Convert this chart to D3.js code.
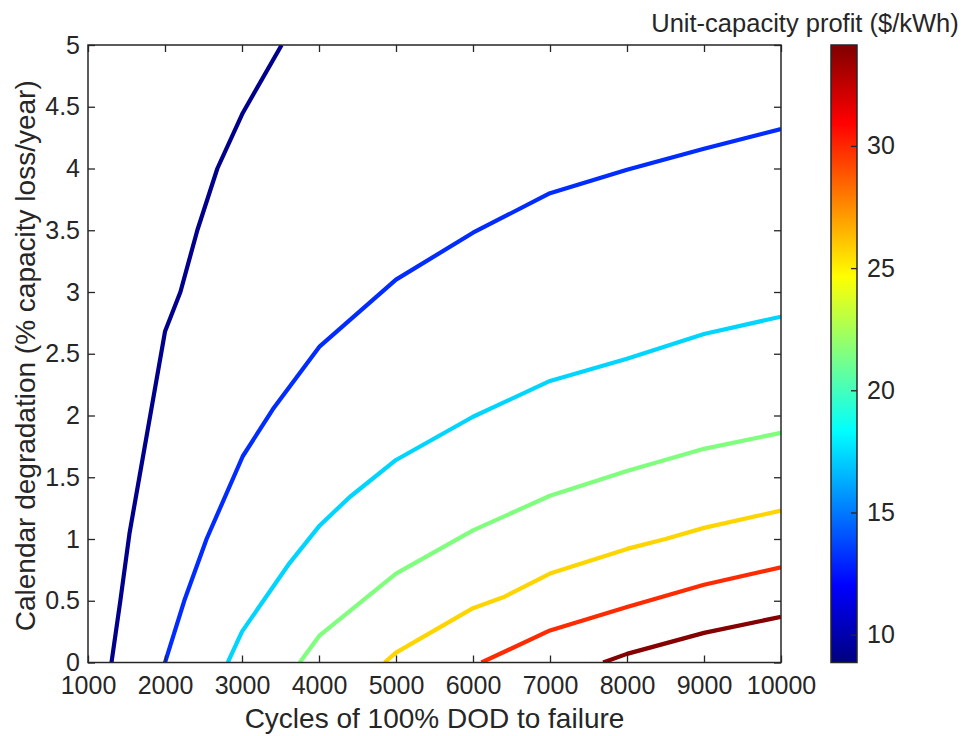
<!DOCTYPE html>
<html>
<head>
<meta charset="utf-8">
<script src="https://cdn.jsdelivr.net/npm/d3@7"></script>
<style>
  body { margin: 0; background: #fff; }
  text { font-family: "Liberation Sans", Arial, Helvetica, sans-serif; fill: #262626; }
</style>
</head>
<body>
<div id="chart"></div>
<script>
// contour levels ($/kWh) and the colorbar range
var profitLevels = [9.2, 13.1, 17.3, 21.5, 25.7, 29.9, 34.0];
var profitRange = [8.86, 34.13];
var profitTicks = [10, 15, 20, 25, 30];

// contour lines: [cycles to failure, calendar degradation %/yr]
var contour1 = [[1305, 0], [1420, 0.5], [1540, 1.05], [2000, 2.68], [2200, 3.0], [2420, 3.5], [2680, 4.0], [3010, 4.45], [3515, 5.0]];
var contour2 = [[2000, 0], [2250, 0.5], [2540, 1.0], [3010, 1.67], [3400, 2.05], [4010, 2.56], [5000, 3.1], [6000, 3.48], [7000, 3.8], [8000, 3.99], [9000, 4.16], [10000, 4.32]];
var contour3 = [[2815, 0], [3000, 0.25], [3300, 0.52], [3600, 0.79], [4010, 1.11], [4400, 1.34], [5000, 1.64], [6000, 1.99], [7000, 2.28], [8000, 2.46], [9000, 2.66], [10000, 2.8]];
var contour4 = [[3750, 0], [4010, 0.22], [5000, 0.72], [6000, 1.07], [7000, 1.35], [8000, 1.55], [9000, 1.73], [10000, 1.86]];
var contour5 = [[4850, 0], [5000, 0.08], [6000, 0.44], [6400, 0.53], [7000, 0.72], [8000, 0.92], [8500, 1.0], [9000, 1.09], [10000, 1.23]];
var contour6 = [[6110, 0], [7000, 0.26], [8000, 0.45], [9000, 0.63], [10000, 0.77]];
var contour7 = [[7690, 0], [8000, 0.07], [9000, 0.24], [10000, 0.37]];

var contours = [contour1, contour2, contour3, contour4, contour5, contour6, contour7];

var xTicks = [1000, 2000, 3000, 4000, 5000, 6000, 7000, 8000, 9000, 10000];
var yTicks = [0, 0.5, 1, 1.5, 2, 2.5, 3, 3.5, 4, 4.5, 5];

// jet colormap
var jet = function(t) {
  var c = function(v) { return Math.max(0, Math.min(1, v)); };
  var r = c(1.5 - Math.abs(4 * t - 3)),
      g = c(1.5 - Math.abs(4 * t - 2)),
      b = c(1.5 - Math.abs(4 * t - 1));
  return d3.rgb(r * 255, g * 255, b * 255).formatHex();
};

var W = 963, H = 736;
var plot = { left: 88, right: 781, top: 45, bottom: 662.5 };
var cbar = { left: 831, right: 857 };
var axisColor = "#262626";

var svg = d3.select("#chart").append("svg")
            .attr("width", W)
            .attr("height", H);

var x = d3.scaleLinear().domain([1000, 10000]).range([plot.left, plot.right]);
var y = d3.scaleLinear().domain([0, 5]).range([plot.bottom, plot.top]);
var cScale = d3.scaleLinear().domain(profitRange).range([plot.bottom, plot.top]);
var colorOf = function(v) {
  return jet((v - profitRange[0]) / (profitRange[1] - profitRange[0]));
};

// --
var clip = svg.append("defs").append("clipPath").attr("id", "plotclip");
clip.append("rect")
    .attr("x", plot.left).attr("y", plot.top)
    .attr("width", plot.right - plot.left)
    .attr("height", plot.bottom - plot.top);

var line = d3.line()
             .x(function(d) { return x(d[0]); })
             .y(function(d) { return y(d[1]); });

svg.append("g")
   .attr("clip-path", "url(#plotclip)")
   .selectAll("path")
   .data(contours)
   .enter()
   .append("path")
   .attr("d", line)
   .attr("fill", "none")
   .attr("stroke", function(d, i) { return colorOf(profitLevels[i]); })
   .attr("stroke-width", 4.2)
   .attr("stroke-linejoin", "round");

// -- axes
var styleAxis = function(g) {
  g.select(".domain").remove();
  g.selectAll(".tick line").attr("stroke", axisColor).attr("stroke-width", 1.3);
  g.selectAll(".tick text").style("font-size", "25px").attr("fill", axisColor);
};

svg.append("g")
   .attr("transform", "translate(0," + plot.bottom + ")")
   .call(d3.axisBottom(x).tickValues(xTicks).tickFormat(d3.format("d")).tickSizeInner(-7).tickSizeOuter(0).tickPadding(14))
   .call(styleAxis);

svg.append("g")
   .attr("transform", "translate(0," + plot.top + ")")
   .call(d3.axisTop(x).tickValues(xTicks).tickFormat("").tickSizeInner(-7).tickSizeOuter(0))
   .call(styleAxis);

svg.append("g")
   .attr("transform", "translate(" + plot.left + ",0)")
   .call(d3.axisLeft(y).tickValues(yTicks).tickFormat(d3.format("")).tickSizeInner(-7).tickSizeOuter(0).tickPadding(8))
   .call(styleAxis);

svg.append("g")
   .attr("transform", "translate(" + plot.right + ",0)")
   .call(d3.axisRight(y).tickValues(yTicks).tickFormat("").tickSizeInner(-7).tickSizeOuter(0))
   .call(styleAxis);

svg.append("rect")
   .attr("x", plot.left).attr("y", plot.top)
   .attr("width", plot.right - plot.left)
   .attr("height", plot.bottom - plot.top)
   .attr("fill", "none")
   .attr("stroke", axisColor)
   .attr("stroke-width", 1.5);

svg.append("text")
   .attr("x", (plot.left + plot.right) / 2)
   .attr("y", 728)
   .attr("text-anchor", "middle")
   .style("font-size", "28px")
   .text("Cycles of 100% DOD to failure");

svg.append("text")
   .attr("transform", "translate(35," + ((plot.top + plot.bottom) / 2 + 2) + ") rotate(-90)")
   .attr("text-anchor", "middle")
   .style("font-size", "28px")
   .text("Calendar degradation (% capacity loss/year)");

// -- colorbar
var grad = svg.select("defs").append("linearGradient")
              .attr("id", "jetgrad")
              .attr("x1", 0).attr("y1", 1).attr("x2", 0).attr("y2", 0);
d3.range(0, 1.0001, 0.025).forEach(function(t) {
  grad.append("stop").attr("offset", t).attr("stop-color", jet(t));
});

svg.append("rect")
   .attr("x", cbar.left).attr("y", plot.top)
   .attr("width", cbar.right - cbar.left)
   .attr("height", plot.bottom - plot.top)
   .attr("fill", "url(#jetgrad)")
   .attr("stroke", axisColor)
   .attr("stroke-width", 1.5);

svg.append("g")
   .attr("transform", "translate(" + cbar.right + ",0)")
   .call(d3.axisRight(cScale).tickValues(profitTicks).tickSizeInner(-6).tickSizeOuter(0).tickPadding(10))
   .call(styleAxis);

svg.append("text")
   .attr("x", 805)
   .attr("y", 32)
   .attr("text-anchor", "middle")
   .style("font-size", "25.5px")
   .text("Unit-capacity profit ($/kWh)");
</script>
</body>
</html>
